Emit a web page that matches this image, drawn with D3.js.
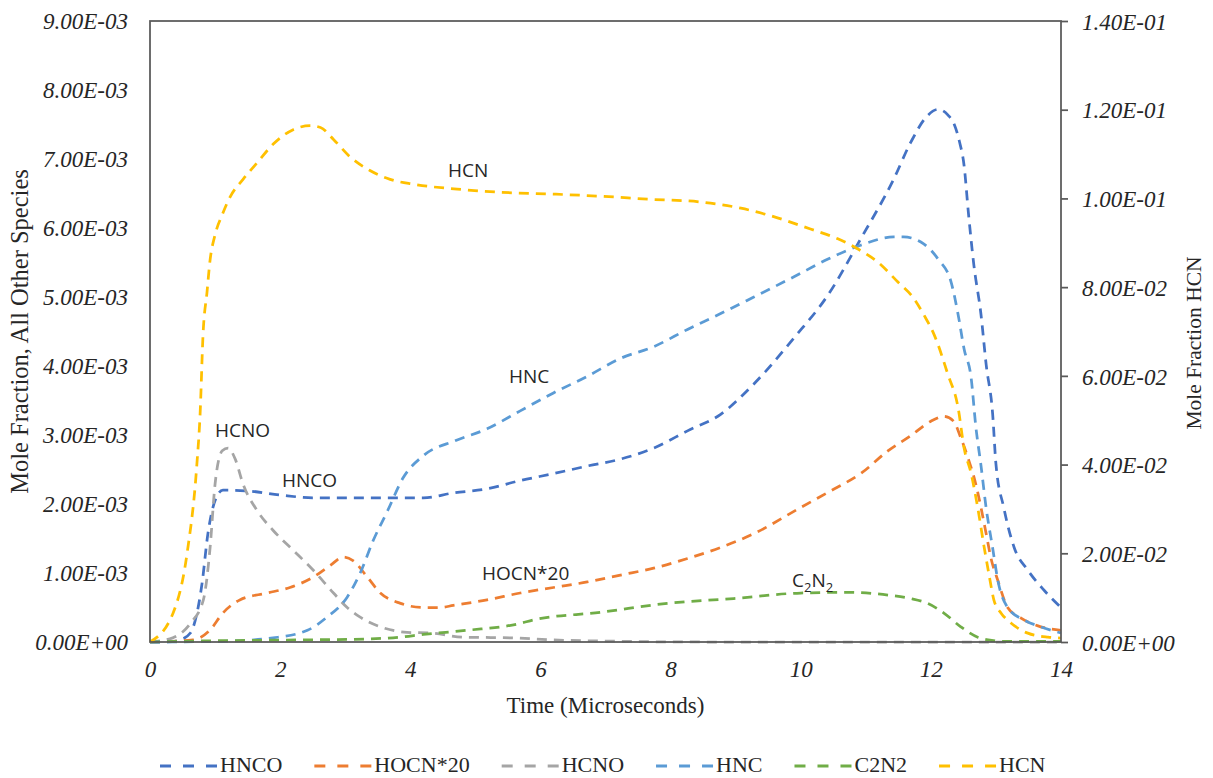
<!DOCTYPE html>
<html>
<head>
<meta charset="utf-8">
<script src="https://cdn.jsdelivr.net/npm/d3@7"></script>
<style>
  html, body { margin: 0; padding: 0; background: #fff; }
  svg { display: block; }
</style>
</head>
<body>
<svg id="chart" width="1213" height="778"></svg>
<script>
// Time axis, microseconds
const xTicks = [0, 2, 4, 6, 8, 10, 12, 14];
// Left axis: all other species (mole fraction)
const leftTicks = [0, 1e-3, 2e-3, 3e-3, 4e-3, 5e-3, 6e-3, 7e-3, 8e-3, 9e-3];
// Right axis: HCN (mole fraction)
const rightTicks = [0, 0.02, 0.04, 0.06, 0.08, 0.10, 0.12, 0.14];

const hncoT = [0, 0.26, 0.46, 0.62, 0.8, 0.89, 1.0, 1.12, 1.49, 2.0, 2.51, 3.43, 4.2, 4.66, 5.18, 5.69, 6.2, 6.72, 7.23, 7.74, 8.26, 8.77, 9.28, 9.89, 10.42, 10.92, 11.43, 11.69, 11.95, 12.11, 12.26, 12.36, 12.44, 12.51, 12.58, 12.66, 12.77, 12.85, 12.95, 13.0, 13.12, 13.28, 13.49, 13.74, 14.0];
const hncoV = [0, 0, 0.03e-3, 0.13e-3, 0.85e-3, 1.57e-3, 2.05e-3, 2.2e-3, 2.19e-3, 2.13e-3, 2.09e-3, 2.09e-3, 2.09e-3, 2.16e-3, 2.22e-3, 2.34e-3, 2.44e-3, 2.55e-3, 2.65e-3, 2.81e-3, 3.06e-3, 3.3e-3, 3.74e-3, 4.4e-3, 5.03e-3, 5.84e-3, 6.71e-3, 7.24e-3, 7.63e-3, 7.72e-3, 7.64e-3, 7.5e-3, 7.25e-3, 6.91e-3, 6.19e-3, 5.47e-3, 4.75e-3, 4.02e-3, 3.3e-3, 2.58e-3, 1.95e-3, 1.37e-3, 1.04e-3, 0.75e-3, 0.5e-3];

const hocnT = [0, 0.66, 0.92, 1.12, 1.38, 1.8, 2.15, 2.51, 2.77, 2.97, 3.12, 3.34, 3.54, 3.85, 4.2, 4.46, 4.66, 5.18, 5.69, 6.2, 6.72, 7.23, 7.74, 8.26, 8.77, 9.28, 10.0, 10.46, 10.92, 11.34, 11.69, 12.0, 12.2, 12.35, 12.46, 12.57, 12.69, 12.77, 12.85, 12.92, 13.03, 13.18, 13.38, 13.69, 14.0];
const hocnV = [0, 0.03e-3, 0.17e-3, 0.42e-3, 0.61e-3, 0.71e-3, 0.79e-3, 0.94e-3, 1.11e-3, 1.23e-3, 1.18e-3, 0.94e-3, 0.71e-3, 0.56e-3, 0.5e-3, 0.5e-3, 0.53e-3, 0.61e-3, 0.71e-3, 0.79e-3, 0.87e-3, 0.97e-3, 1.07e-3, 1.21e-3, 1.37e-3, 1.57e-3, 1.95e-3, 2.19e-3, 2.44e-3, 2.77e-3, 2.99e-3, 3.2e-3, 3.27e-3, 3.2e-3, 2.96e-3, 2.67e-3, 2.29e-3, 1.95e-3, 1.57e-3, 1.23e-3, 0.89e-3, 0.5e-3, 0.35e-3, 0.22e-3, 0.17e-3];

const hcnoT = [0, 0.35, 0.62, 0.82, 0.92, 1.0, 1.11, 1.2, 1.31, 1.43, 1.65, 1.89, 2.2, 2.51, 2.82, 3.03, 3.23, 3.54, 3.95, 4.31, 4.82, 5.58, 6.2, 7.23, 8.46, 14.0];
const hcnoV = [0, 0.06e-3, 0.27e-3, 0.61e-3, 1.33e-3, 2.29e-3, 2.77e-3, 2.81e-3, 2.65e-3, 2.29e-3, 1.9e-3, 1.62e-3, 1.33e-3, 1.04e-3, 0.71e-3, 0.5e-3, 0.36e-3, 0.22e-3, 0.14e-3, 0.13e-3, 0.07e-3, 0.06e-3, 0.03e-3, 0.01e-3, 0, 0];

const hncT = [0, 1.12, 1.89, 2.42, 2.72, 3.03, 3.23, 3.43, 3.65, 3.89, 4.2, 4.7, 5.18, 5.69, 6.2, 6.72, 7.23, 7.74, 8.26, 8.77, 9.28, 9.89, 10.42, 10.92, 11.43, 11.58, 11.89, 12.11, 12.31, 12.42, 12.51, 12.62, 12.69, 12.77, 12.85, 12.95, 13.03, 13.18, 13.43, 13.69, 14.0];
const hncV = [0, 0.01e-3, 0.06e-3, 0.17e-3, 0.36e-3, 0.65e-3, 1.0e-3, 1.47e-3, 1.9e-3, 2.38e-3, 2.7e-3, 2.92e-3, 3.09e-3, 3.35e-3, 3.61e-3, 3.85e-3, 4.11e-3, 4.28e-3, 4.53e-3, 4.76e-3, 5.0e-3, 5.29e-3, 5.55e-3, 5.75e-3, 5.87e-3, 5.87e-3, 5.77e-3, 5.55e-3, 5.22e-3, 4.74e-3, 4.25e-3, 3.82e-3, 3.13e-3, 2.56e-3, 1.94e-3, 1.36e-3, 0.89e-3, 0.5e-3, 0.32e-3, 0.22e-3, 0.13e-3];

const c2n2T = [0, 0.77, 2.31, 3.38, 3.85, 4.2, 4.88, 5.69, 5.89, 6.92, 7.95, 8.97, 10.0, 10.72, 11.34, 11.69, 11.95, 12.2, 12.46, 12.72, 12.88, 13.08, 14.0];
const c2n2V = [0, 0.015e-3, 0.03e-3, 0.045e-3, 0.07e-3, 0.11e-3, 0.17e-3, 0.27e-3, 0.32e-3, 0.43e-3, 0.56e-3, 0.63e-3, 0.71e-3, 0.72e-3, 0.68e-3, 0.63e-3, 0.56e-3, 0.42e-3, 0.22e-3, 0.07e-3, 0.03e-3, 0.01e-3, 0.01e-3];

const hcnT = [0, 0.354, 0.57, 0.72, 0.77, 0.815, 0.877, 0.92, 1.0, 1.11, 1.23, 1.43, 1.65, 1.89, 2.2, 2.46, 2.62, 2.82, 3.08, 3.38, 3.69, 4.05, 4.72, 5.38, 6.15, 6.92, 7.69, 8.46, 9.08, 9.49, 10.15, 10.57, 10.88, 11.18, 11.49, 11.74, 11.89, 12.05, 12.26, 12.42, 12.51, 12.62, 12.72, 12.82, 12.89, 12.97, 13.08, 13.23, 13.49, 13.8, 14.0];
const hcnV = [0, 0.0065, 0.020, 0.040, 0.0514, 0.0693, 0.079, 0.0857, 0.0918, 0.0963, 0.1003, 0.1043, 0.1081, 0.1122, 0.1155, 0.1164, 0.116, 0.1133, 0.1093, 0.1063, 0.1043, 0.1032, 0.1021, 0.1014, 0.101, 0.1005, 0.0998, 0.0992, 0.0978, 0.0963, 0.0931, 0.0909, 0.0886, 0.0857, 0.0812, 0.0774, 0.0738, 0.0693, 0.0604, 0.0527, 0.0438, 0.0379, 0.0303, 0.0213, 0.0155, 0.0094, 0.0065, 0.0043, 0.002, 0.0011, 0.0009];

const seriesNames = ["HNCO", "HOCN*20", "HCNO", "HNC", "C2N2", "HCN"];
const seriesColors = ["#4472C4", "#ED7D31", "#A5A5A5", "#5B9BD5", "#70AD47", "#FFC000"];

const series = [
  { t: hncoT, v: hncoV, axis: "left" },
  { t: hocnT, v: hocnV, axis: "left" },
  { t: hcnoT, v: hcnoV, axis: "left" },
  { t: hncT, v: hncV, axis: "left" },
  { t: c2n2T, v: c2n2V, axis: "left" },
  { t: hcnT, v: hcnV, axis: "right" }
].map((s, i) => ({ ...s, name: seriesNames[i], color: seriesColors[i] }));

const svg = d3.select("#chart");
const plot = { left: 150, right: 1061, top: 21, bottom: 642 };
const axisColor = "#595959";
const textColor = "#262626";
const serif = "'Liberation Serif', 'Times New Roman', serif";
const sans = "'Open Sans', 'Noto Sans', sans-serif";

const x = d3.scaleLinear().domain([0, 14]).range([plot.left, plot.right]);
const yL = d3.scaleLinear().domain([0, 9e-3]).range([plot.bottom, plot.top]);
const yR = d3.scaleLinear().domain([0, 0.14]).range([plot.bottom, plot.top]);

function sci(v) {
  if (v === 0) return "0.00E+00";
  const [m, e] = v.toExponential(2).split("e");
  const n = Math.abs(+e);
  return m + "E" + (+e < 0 ? "-" : "+") + String(n).padStart(2, "0");
}

// Series lines
const lines = svg.append("g").attr("class", "lines");
series.forEach(s => {
  const yS = s.axis === "left" ? yL : yR;
  const pts = s.t.map((t, i) => [t, s.v[i]]);
  const line = d3.line().x(d => x(d[0])).y(d => yS(d[1])).curve(d3.curveMonotoneX);
  lines.append("path")
    .attr("d", line(pts))
    .attr("fill", "none")
    .attr("stroke", s.color)
    .attr("stroke-width", 2.75)
    .attr("stroke-dasharray", "10,7");
});

// Plot frame
svg.append("rect")
  .attr("x", plot.left).attr("y", plot.top)
  .attr("width", plot.right - plot.left).attr("height", plot.bottom - plot.top)
  .attr("fill", "none").attr("stroke", axisColor).attr("stroke-width", 1.75);

// Left axis
const gL = svg.append("g").attr("transform", `translate(${plot.left},0)`)
  .call(d3.axisLeft(yL).tickValues(leftTicks).tickFormat(sci).tickSize(0).tickPadding(22));
gL.select(".domain").remove();
gL.selectAll("text")
  .attr("font-family", serif).attr("font-style", "italic").attr("font-size", 23)
  .attr("fill", textColor).attr("dy", "0.34em");

// Right axis
const gR = svg.append("g").attr("transform", `translate(${plot.right},0)`)
  .call(d3.axisRight(yR).tickValues(rightTicks).tickFormat(sci).tickSize(7).tickSizeOuter(0).tickPadding(14));
gR.select(".domain").remove();
gR.selectAll("line").attr("stroke", axisColor).attr("stroke-width", 1.75);
gR.selectAll("text")
  .attr("font-family", serif).attr("font-style", "italic").attr("font-size", 23)
  .attr("fill", textColor).attr("dy", "0.36em");

// Bottom axis
const gB = svg.append("g").attr("transform", `translate(0,${plot.bottom})`)
  .call(d3.axisBottom(x).tickValues(xTicks).tickFormat(d3.format("d")).tickSize(0).tickPadding(19));
gB.select(".domain").remove();
gB.selectAll("text")
  .attr("font-family", serif).attr("font-style", "italic").attr("font-size", 23)
  .attr("fill", textColor);

// Axis titles
svg.append("text")
  .attr("transform", `translate(28,${(plot.top + plot.bottom) / 2}) rotate(-90)`)
  .attr("text-anchor", "middle")
  .attr("font-family", serif).attr("font-size", 24.5).attr("fill", textColor)
  .text("Mole Fraction, All Other Species");

svg.append("text")
  .attr("transform", `translate(1201,343) rotate(-90)`)
  .attr("text-anchor", "middle")
  .attr("font-family", serif).attr("font-size", 21.5).attr("fill", textColor)
  .text("Mole Fraction HCN");

svg.append("text")
  .attr("x", (plot.left + plot.right) / 2).attr("y", 713)
  .attr("text-anchor", "middle")
  .attr("font-family", serif).attr("font-size", 23).attr("fill", textColor)
  .text("Time (Microseconds)");

// Curve labels
const labels = svg.append("g")
  .attr("font-family", sans).attr("font-size", 19).attr("fill", textColor);
labels.append("text").attr("x", 448).attr("y", 177).text("HCN");
labels.append("text").attr("x", 509).attr("y", 383).text("HNC");
labels.append("text").attr("x", 215).attr("y", 437).text("HCNO");
labels.append("text").attr("x", 282).attr("y", 487).text("HNCO");
labels.append("text").attr("x", 482).attr("y", 580).text("HOCN*20");
const c2 = labels.append("text").attr("x", 792).attr("y", 587);
c2.append("tspan").text("C");
c2.append("tspan").attr("font-size", 13).attr("dy", 5).text("2");
c2.append("tspan").attr("dy", -5).text("N");
c2.append("tspan").attr("font-size", 13).attr("dy", 5).text("2");

// Legend
const legend = svg.append("g");
let lx = 160;
series.forEach(s => {
  const g = legend.append("g").attr("transform", `translate(${lx},0)`);
  g.append("line")
    .attr("x1", 0).attr("x2", 57).attr("y1", 766).attr("y2", 766)
    .attr("stroke", s.color).attr("stroke-width", 3)
    .attr("stroke-dasharray", "11,12");
  const t = g.append("text")
    .attr("x", 60).attr("y", 772)
    .attr("font-family", serif).attr("font-size", 22).attr("fill", textColor)
    .text(s.name);
  lx += 60 + t.node().getComputedTextLength() + 32;
});
</script>
</body>
</html>
